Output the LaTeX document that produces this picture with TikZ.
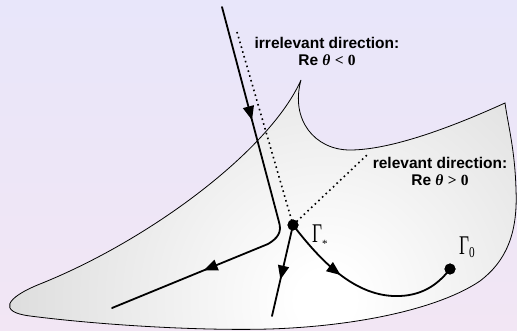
\documentclass[tikz,border=0pt]{standalone}
\usepackage[no-math]{fontspec}
\setmainfont{Liberation Sans}
\newfontfamily\serif{Liberation Serif}
\usetikzlibrary{arrows.meta,decorations.markings}
\definecolor{bgtop}{HTML}{E8E6FA}
\definecolor{bgbot}{HTML}{F2E6F4}
\definecolor{surfgray}{HTML}{D8D8D8}
\pgfdeclareradialshading{surfshade}{\pgfpoint{0bp}{0bp}}{color(0bp)=(white); color(2bp)=(white); color(25bp)=(surfgray); color(50bp)=(surfgray)}
\tikzset{
  bigtri/.tip={Triangle[length=14pt,width=11pt]},
  curve/.style={line width=1.8pt, line cap=round},
  dotline/.style={line width=1.6pt, dash pattern=on 1.6pt off 3.4pt},
  edgeline/.style={line width=0.8pt},
  dotnode/.style={circle, fill=black, inner sep=0pt, minimum size=11pt},
  arrowat/.style={postaction={decorate}, decoration={markings, mark=at position #1 with {\arrow{bigtri}}}},
  lbl/.style={font=\fontsize{15.5}{17}\selectfont\bfseries, align=center, inner sep=0pt},
  gam/.style={inner sep=0pt, anchor=base west, font=\serif\fontsize{27}{27}\selectfont}
}
\begin{document}
\begin{tikzpicture}[x=1pt,y=-1pt]
\useasboundingbox (0,0) rectangle (517,331);
\shade[top color=bgtop,bottom color=bgbot] (0,0) rectangle (517,331);
% surface
\draw[edgeline, path picture={\shade[shading=surfshade] (325,300) circle (360);}]
  (301,80) .. controls (270,150) and (150,240) .. (40,284)
  .. controls (5,298) and (-2,312) .. (30,316)
  .. controls (100,325) and (200,331) .. (270,329)
  .. controls (360,326) and (440,308) .. (480,281)
  .. controls (505,262) and (518,235) .. (516,190)
  .. controls (515,150) and (508,125) .. (505,103)
  .. controls (450,128) and (390,150) .. (350,150)
  .. controls (315,150) and (290,120) .. (301,80) -- cycle;
% points
\node[dotnode] (gs) at (293,225) {};
\node[dotnode] (g0) at (450,269) {};
\coordinate (dtop) at (237,32);
\coordinate (dright) at (368,154);
\coordinate (mtop) at (222,7);
\coordinate (kink1) at (279,222);
\coordinate (kink2) at (268,244);
\coordinate (mend) at (112,308);
\coordinate (bend) at (272,316);
% dotted directions
\draw[dotline] (dtop) -- (gs.center);
\draw[dotline] (gs.center) -- (dright);
% main line
\draw[curve, postaction={decorate}, decoration={markings,
    mark=at position 0.28 with {\arrow{bigtri}},
    mark=at position 0.763 with {\arrow{bigtri}}}]
  (mtop) -- (kink1) .. controls (282,232) and (278,238) .. (kink2) -- (mend);
\draw[curve, arrowat=0.6] (gs.center) -- (bend);
\draw[curve, arrowat=0.36] (gs.center) .. controls (320,260) and (355,298) .. (400,296)
  .. controls (425,295) and (440,282) .. (g0.center);
\node[dotnode] at (gs) {};
\node[dotnode] at (g0) {};
% labels
\node[lbl] (irr) at (327,51) {irrelevant direction:\\Re {\serif\itshape θ} {\serif <} {\serif 0}};
\node[lbl] (rel) at (440,171) {relevant direction:\\Re {\serif\itshape θ} {\serif >} {\serif 0}};
\node[gam] (gsl) at (312,243) {\scalebox{0.64}[1]{Γ}\raisebox{-5pt}{\fontsize{11}{11}\selectfont *}};
\node[gam] (g0l) at (459,255) {\scalebox{0.64}[1]{Γ}\raisebox{-2pt}{\fontsize{15}{15}\selectfont\scalebox{0.75}[1]{0}}};
\end{tikzpicture}
\end{document}
